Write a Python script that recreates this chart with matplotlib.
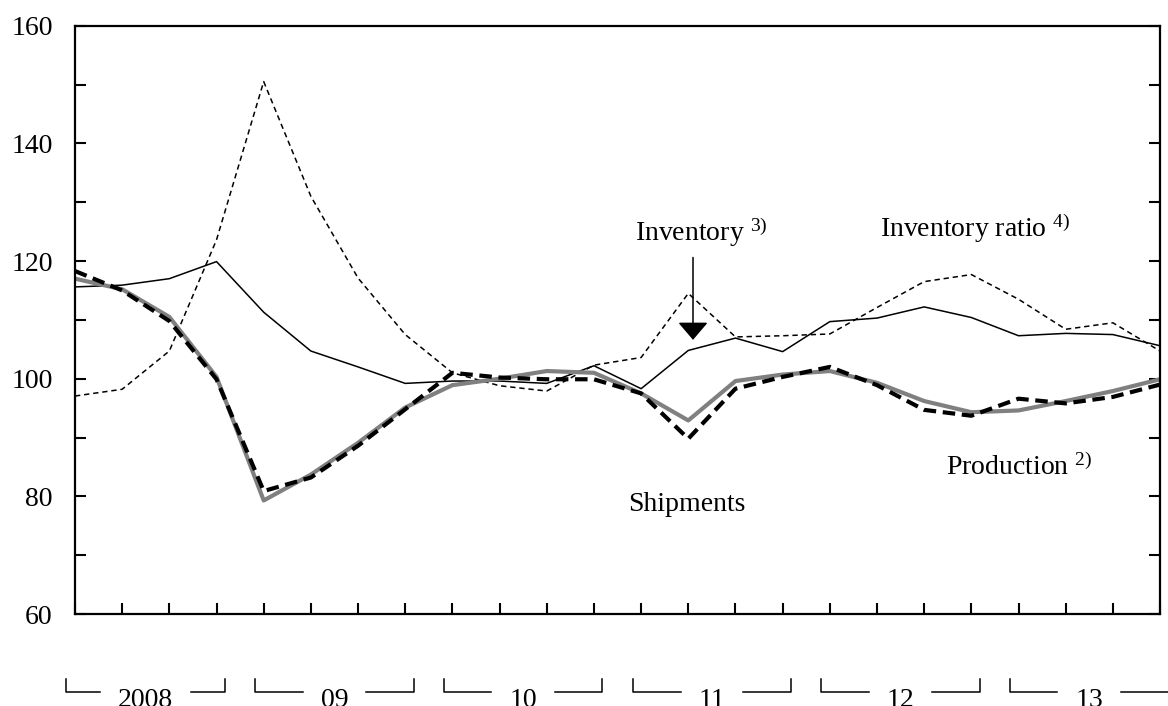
import matplotlib
matplotlib.use('Agg')
import matplotlib.pyplot as plt
import matplotlib.transforms as mtransforms

plt.rcParams['font.family'] = ['Liberation Serif', 'DejaVu Serif']
plt.rcParams['mathtext.fontset'] = 'custom'
plt.rcParams['mathtext.rm'] = 'Liberation Serif'
plt.rcParams['mathtext.default'] = 'regular'

# quarterly indexes, 2008 Q1 - 2013 Q4
years = ['2008', '09', '10', '11', '12', '13']
production = [118.3, 115.0, 109.8, 99.9, 80.9, 83.2, 88.6, 94.8, 101.0, 100.2, 99.9, 99.9,
              97.5, 89.8, 98.3, 100.3, 102.0, 98.9, 94.7, 93.7, 96.6, 95.8, 96.9, 99.0]
shipments = [117.0, 115.2, 110.5, 100.3, 79.3, 83.7, 89.1, 95.1, 98.9, 100.0, 101.3, 101.0,
             97.5, 92.9, 99.6, 100.7, 101.3, 99.3, 96.2, 94.3, 94.6, 96.2, 97.9, 99.9]
inventory = [115.6, 115.9, 117.0, 119.9, 111.3, 104.7, 102.0, 99.2, 99.6, 99.6, 99.2, 102.2,
             98.3, 104.8, 106.9, 104.6, 109.7, 110.3, 112.2, 110.4, 107.3, 107.7, 107.5, 105.6]
inventory_ratio = [97.05, 98.2, 104.7, 123.6, 150.5, 131.0, 117.1, 107.5, 101.0, 98.8, 97.9, 102.3,
                   103.6, 114.5, 107.1, 107.3, 107.6, 112.1, 116.5, 117.7, 113.5, 108.4, 109.5, 104.7]

x = list(range(len(production)))

fig = plt.figure(figsize=(11.68, 7.06), dpi=100)
ax = fig.add_axes([0.0642, 0.1303, 0.929, 0.8333])

ax.plot(x, inventory_ratio, color='black', lw=1.1, linestyle=(0, (3.5, 2.5)))
ax.plot(x, inventory, color='black', lw=1.1)
ax.plot(x, shipments, color='#808080', lw=3)
ax.plot(x, production, color='black', lw=3, linestyle=(0, (3, 1.6)))

ax.set_xlim(0, 23)
ax.set_ylim(60, 160)
ax.set_xticks(x)
ax.set_xticklabels([])
yt = list(range(60, 161, 10))
ax.set_yticks(yt)
ax.set_yticklabels([str(v) if v % 20 == 0 else '' for v in yt], fontsize=20)
ax.tick_params(axis='both', direction='in', length=8, width=1.5, color='black')
ax.tick_params(axis='y', right=True, pad=16)
for s in ax.spines.values():
    s.set_linewidth(1.6)

ax.text(11.87, 124.8, 'Inventory $^{3)}$', fontsize=20, va='center', ha='left')
ax.annotate('', xy=(13.1, 106.6), xytext=(13.1, 120.6),
            arrowprops=dict(arrowstyle='-|>,head_length=0.55,head_width=0.47',
                            mutation_scale=20, lw=1.1, color='black', shrinkA=0, shrinkB=0))
ax.text(17.07, 125.6, 'Inventory ratio $^{4)}$', fontsize=20, va='center', ha='left')
ax.text(11.72, 78.6, 'Shipments', fontsize=20, va='center', ha='left')
ax.text(18.47, 84.9, 'Production $^{2)}$', fontsize=20, va='center', ha='left')

# year brackets under the axis
trans = mtransforms.blended_transform_factory(ax.transData, fig.transFigure)
y_top = 1 - 679 / 706
y_line = 1 - 692 / 706
half = 1.68
fig.canvas.draw()
renderer = fig.canvas.get_renderer()
px = ax.transData.transform([(0, 0), (1, 0)])
unit = px[1][0] - px[0][0]
for k, lab in enumerate(years):
    c = 4 * k + 1.5
    t = ax.text(c, -0.002, lab, fontsize=20, ha='center', va='baseline',
                transform=trans, clip_on=False)
    w = t.get_window_extent(renderer).width / unit
    gap = 18 / unit
    l, r = c - half, c + half
    ax.plot([l, l, c - w / 2 - gap], [y_top, y_line, y_line], color='black', lw=1.1,
            transform=trans, clip_on=False)
    ax.plot([c + w / 2 + gap, r, r], [y_line, y_line, y_top], color='black', lw=1.1,
            transform=trans, clip_on=False)

fig.savefig('out.png', dpi=100)
